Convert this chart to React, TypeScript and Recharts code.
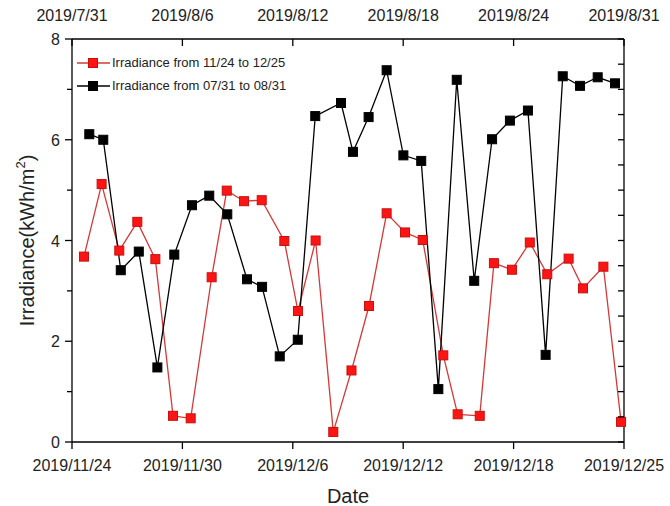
import { Legend, Line, LineChart, XAxis, YAxis } from 'recharts'

const FONT = '"Liberation Sans", Arial, sans-serif'

// date axes: both span 31 days, ticks every 6 days (last one is the end date)
const dateTicks = [0, 6, 12, 18, 24, 30]
const bottomTickLabels = ['2019/11/24', '2019/11/30', '2019/12/6', '2019/12/12', '2019/12/18', '2019/12/25']
const topTickLabels = ['2019/7/31', '2019/8/6', '2019/8/12', '2019/8/18', '2019/8/24', '2019/8/31']

const leftTicks = [0, 1, 2, 3, 4, 5, 6, 7, 8]
const rightTicks = [0, 0.5, 1, 1.5, 2, 2.5, 3, 3.5, 4, 4.5, 5, 5.5, 6, 6.5, 7, 7.5, 8]

// 11/24 - 12/25 (bottom axis), position in days from 11/24
const redDays = [
  0.65, 1.61, 2.57, 3.55, 4.53, 5.49, 6.45, 7.59, 8.41, 9.35, 10.31, 11.54, 12.28, 13.24, 14.2, 15.19,
  16.14, 17.1, 18.1, 19.06, 20.18, 20.96, 22.16, 22.93, 23.91, 24.88, 25.83, 26.99, 27.77, 28.88, 29.84,
]
const redValues = [
  3.68, 5.12, 3.8, 4.37, 3.63, 0.52, 0.47, 3.27, 4.99, 4.78, 4.8, 3.99, 2.6, 4.0, 0.2, 1.42,
  2.7, 4.54, 4.16, 4.01, 1.72, 0.55, 0.52, 3.55, 3.42, 3.96, 3.33, 3.64, 3.05, 3.48, 0.4,
]

// 07/31 - 08/31 (top axis), position in days from 7/31
const blackDays = [
  0.94, 1.7, 2.65, 3.63, 4.64, 5.56, 6.52, 7.46, 8.44, 9.51, 10.33, 11.29, 12.27, 13.22, 14.62, 15.27,
  16.12, 17.1, 18.01, 18.98, 19.91, 20.91, 21.86, 22.83, 23.8, 24.78, 25.74, 26.67, 27.61, 28.57, 29.51,
]
const blackValues = [
  6.11, 6.0, 3.41, 3.78, 1.48, 3.72, 4.7, 4.89, 4.52, 3.23, 3.08, 1.7, 2.03, 6.47, 6.73, 5.76,
  6.45, 7.38, 5.69, 5.58, 1.05, 7.19, 3.2, 6.01, 6.38, 6.58, 1.73, 7.26, 7.07, 7.24, 7.12,
]

const redData = redDays.map((x, i) => ({ x, y: redValues[i] }))
const blackData = blackDays.map((x, i) => ({ x, y: blackValues[i] }))

const RED_LINE = '#d13a3a'
const RED_FILL = '#ff1414'
const RED_EDGE = '#c41010'

function squareDot(fill: string, stroke: string) {
  return (p: any) => (
    <rect
      key={`d-${p.index}`}
      x={p.cx - 4.5}
      y={p.cy - 4.5}
      width={9}
      height={9}
      fill={fill}
      stroke={stroke}
      strokeWidth={1}
    />
  )
}

function BottomTick(p: any) {
  const { x, y, index } = p
  return (
    <g>
      <line x1={x} x2={x} y1={y} y2={y + 7} stroke="#000" strokeWidth={1.3} />
      <text x={x} y={y + 29} textAnchor="middle" fontSize={16} fill="#222" fontFamily={FONT}>
        {bottomTickLabels[index]}
      </text>
    </g>
  )
}

function TopTick(p: any) {
  const { x, y, index } = p
  return (
    <g>
      <line x1={x} x2={x} y1={y} y2={y + 7} stroke="#000" strokeWidth={1.3} />
      <text x={x} y={y - 18} textAnchor="middle" fontSize={16} fill="#222" fontFamily={FONT}>
        {topTickLabels[index]}
      </text>
    </g>
  )
}

function LeftTick(p: any) {
  const { x, y, payload } = p
  const major = payload.value % 2 === 0
  return (
    <g>
      <line x1={x - (major ? 7 : 5)} x2={x} y1={y} y2={y} stroke="#000" strokeWidth={1.3} />
      {major && (
        <text x={x - 12} y={y + 6} textAnchor="end" fontSize={16} fill="#222" fontFamily={FONT}>
          {payload.value}
        </text>
      )}
    </g>
  )
}

function RightTick(p: any) {
  const { x, y } = p
  return <line x1={x - 6} x2={x} y1={y} y2={y} stroke="#000" strokeWidth={1.3} />
}

function YTitle(p: any) {
  const vb = p.viewBox || { y: 39, height: 403 }
  const cx = 27
  const cy = vb.y + vb.height / 2
  return (
    <text
      x={cx}
      y={cy}
      transform={`rotate(-90 ${cx} ${cy})`}
      textAnchor="middle"
      dominantBaseline="central"
      fontSize={20}
      fill="#222"
      fontFamily={FONT}
    >
      Irradiance(kWh/m
      <tspan dy={-7} fontSize={13}>
        2
      </tspan>
      <tspan dy={7}>)</tspan>
    </text>
  )
}

const legendItems = [
  { name: 'Irradiance from 11/24 to 12/25', line: RED_LINE, fill: RED_FILL, edge: RED_EDGE },
  { name: 'Irradiance from 07/31 to 08/31', line: '#000', fill: '#000', edge: '#000' },
]

function LegendBox() {
  return (
    <div style={{ fontFamily: FONT, fontSize: 13, color: '#222' }}>
      {legendItems.map((it) => (
        <div key={it.name} style={{ display: 'flex', alignItems: 'center', height: 23 }}>
          <svg width={33} height={12}>
            <line x1={0} x2={33} y1={6} y2={6} stroke={it.line} strokeWidth={1.3} />
            <rect x={11.5} y={1.5} width={9} height={9} fill={it.fill} stroke={it.edge} />
          </svg>
          <span style={{ marginLeft: 2 }}>{it.name}</span>
        </div>
      ))}
    </div>
  )
}

export default function App() {
  return (
    <div style={{ position: 'absolute', left: 0, top: 0, background: '#fff' }}>
      <LineChart width={670} height={506} margin={{ top: 0, right: 0, bottom: 0, left: 0 }}>
        <XAxis
          xAxisId="bottom"
          dataKey="x"
          type="number"
          orientation="bottom"
          domain={[0, 30]}
          ticks={dateTicks}
          height={64}
          tickSize={0}
          tickMargin={0}
          tickLine={false}
          axisLine={{ stroke: '#000', strokeWidth: 1.3 }}
          tick={(p: any) => <BottomTick {...p} />}
          interval={0}
          label={{
            value: 'Date',
            position: 'insideBottom',
            offset: 3,
            fontSize: 20,
            fill: '#222',
            fontFamily: FONT,
          }}
        />
        <XAxis
          xAxisId="top"
          dataKey="x"
          type="number"
          orientation="top"
          domain={[0, 30]}
          ticks={dateTicks}
          height={39}
          tickSize={0}
          tickMargin={0}
          tickLine={false}
          axisLine={{ stroke: '#000', strokeWidth: 1.3 }}
          tick={(p: any) => <TopTick {...p} />}
          interval={0}
        />
        <YAxis
          yAxisId="left"
          type="number"
          domain={[0, 8]}
          ticks={leftTicks}
          width={72}
          tickSize={0}
          tickMargin={0}
          tickLine={false}
          axisLine={{ stroke: '#000', strokeWidth: 1.3 }}
          tick={(p: any) => <LeftTick {...p} />}
          interval={0}
          label={<YTitle />}
        />
        <YAxis
          yAxisId="right"
          orientation="right"
          type="number"
          domain={[0, 8]}
          ticks={rightTicks}
          width={46}
          tickSize={0}
          tickMargin={0}
          tickLine={false}
          axisLine={{ stroke: '#000', strokeWidth: 1.3 }}
          tick={(p: any) => <RightTick {...p} />}
          interval={0}
        />
        <Legend
          layout="vertical"
          align="center"
          verticalAlign="middle"
          content={() => <LegendBox />}
          wrapperStyle={{ left: 77, top: 51, width: 260, height: 46 }}
        />
        <Line
          data={redData}
          xAxisId="bottom"
          yAxisId="left"
          dataKey="y"
          name="Irradiance from 11/24 to 12/25"
          type="linear"
          stroke={RED_LINE}
          strokeWidth={1.3}
          dot={squareDot(RED_FILL, RED_EDGE)}
          activeDot={false}
          isAnimationActive={false}
        />
        <Line
          data={blackData}
          xAxisId="top"
          yAxisId="right"
          dataKey="y"
          name="Irradiance from 07/31 to 08/31"
          type="linear"
          stroke="#000"
          strokeWidth={1.3}
          dot={squareDot('#000', '#000')}
          activeDot={false}
          isAnimationActive={false}
        />
      </LineChart>
    </div>
  )
}
